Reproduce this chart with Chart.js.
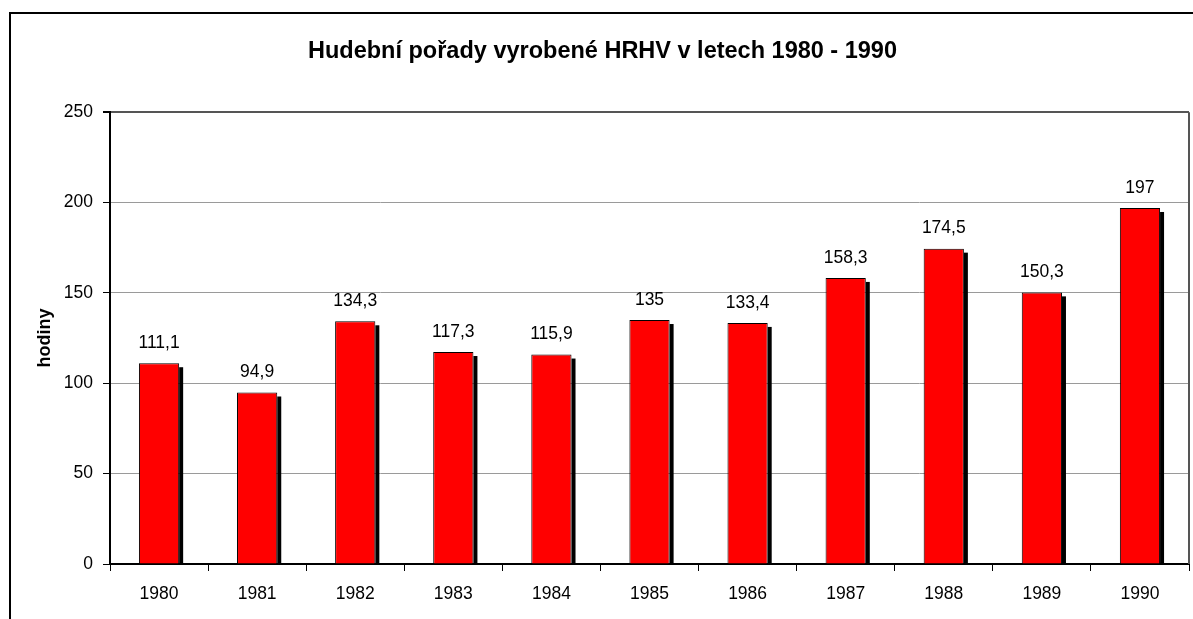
<!DOCTYPE html>
<html>
<head>
<meta charset="utf-8">
<script src="https://cdn.jsdelivr.net/npm/chart.js@4"></script>
<style>
  body { margin: 0; background: #fff; }
  #wrap { width: 1193px; height: 619px; }
</style>
</head>
<body>
<div id="wrap"><canvas id="myChart" width="1193" height="619"></canvas></div>
<script>
var years = ["1980", "1981", "1982", "1983", "1984", "1985", "1986", "1987", "1988", "1989", "1990"];
var hours = [111.1, 94.9, 134.3, 117.3, 115.9, 135, 133.4, 158.3, 174.5, 150.3, 197];
var yTicks = [0, 50, 100, 150, 200, 250];

var FONT = "'Liberation Sans', Arial, sans-serif";

// outer frame + right edge of the plot
var framePlugin = {
  id: "frame",
  beforeDraw: function (chart) {
    var ctx = chart.ctx;
    ctx.save();
    ctx.strokeStyle = "#000";
    ctx.lineWidth = 2;
    ctx.strokeRect(10, 13, 1300, 1000);
    ctx.restore();
  },
  afterDraw: function (chart) {
    var a = chart.chartArea, ctx = chart.ctx;
    ctx.save();
    ctx.strokeStyle = "#555";
    ctx.lineWidth = 2;
    ctx.beginPath();
    ctx.moveTo(a.right, a.top);
    ctx.lineTo(a.right, a.bottom);
    ctx.stroke();
    ctx.restore();
  }
};

// black shadow behind bars, value labels above
var shadowPlugin = {
  id: "shadow",
  beforeDatasetsDraw: function (chart) {
    var ctx = chart.ctx;
    ctx.save();
    ctx.fillStyle = "#000";
    chart.getDatasetMeta(0).data.forEach(function (bar) {
      ctx.fillRect(bar.x + bar.width / 2, bar.y + 4, 4, bar.base - bar.y - 4);
    });
    ctx.restore();
  },
  afterDatasetsDraw: function (chart) {
    var ctx = chart.ctx;
    var vals = chart.data.datasets[0].data;
    ctx.save();
    ctx.fillStyle = "#000";
    ctx.font = "17.5px " + FONT;
    ctx.textAlign = "center";
    ctx.textBaseline = "middle";
    chart.getDatasetMeta(0).data.forEach(function (bar, i) {
      ctx.fillText(String(vals[i]).replace(".", ","), bar.x, bar.y - 20);
    });
    ctx.restore();
  }
};

new Chart("myChart", {
  type: "bar",
  data: {
    labels: years,
    datasets: [{
      data: hours,
      backgroundColor: "#ff0000",
      borderColor: "#000",
      borderWidth: 1,
      categoryPercentage: 1,
      barPercentage: 0.41
    }]
  },
  options: {
    responsive: false,
    animation: false,
    layout: { padding: { left: 16, right: 4, top: 0, bottom: 0 } },
    plugins: {
      legend: { display: false },
      tooltip: { enabled: false },
      title: {
        display: true,
        text: "Hudební pořady vyrobené HRHV v letech 1980 - 1990",
        color: "#000",
        font: { family: FONT, size: 23.5, weight: "bold" },
        padding: { top: 37, bottom: 47 }
      }
    },
    scales: {
      x: {
        offset: true,
        grid: { offset: true, drawOnChartArea: false, tickLength: 7, tickColor: "#000", tickWidth: 1 },
        border: { color: "#000", width: 2 },
        ticks: { color: "#000", font: { family: FONT, size: 17.5 }, padding: 13, maxRotation: 0 },
        afterFit: function (s) { s.height = 55; }
      },
      y: {
        min: 0,
        max: 250,
        afterBuildTicks: function (s) { s.ticks = yTicks.map(function (v) { return { value: v }; }); },
        grid: {
          color: function (c) { return c.tick && c.tick.value === 250 ? "#555" : "#9a9a9a"; },
          lineWidth: function (c) { return c.tick && c.tick.value === 250 ? 2 : 1; },
          tickLength: 7,
          tickColor: "#000"
        },
        border: { color: "#000", width: 2 },
        ticks: { color: "#000", font: { family: FONT, size: 17.5 }, padding: 10 },
        title: {
          display: true,
          text: "hodiny",
          color: "#000",
          font: { family: FONT, size: 18, weight: "bold" },
          padding: { top: 18, bottom: 0 }
        },
        afterFit: function (s) { s.width = 94; }
      }
    }
  },
  plugins: [framePlugin, shadowPlugin]
});
</script>
</body>
</html>
